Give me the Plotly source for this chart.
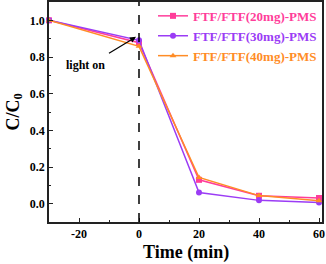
import plotly.graph_objects as go

time = [-30, 0, 20, 40, 60]
c20 = [1.0, 0.878, 0.13, 0.043, 0.031]
c30 = [1.0, 0.891, 0.061, 0.018, 0.007]
c40 = [1.0, 0.858, 0.143, 0.044, 0.016]
names = ["FTF/FTF(20mg)-PMS", "FTF/FTF(30mg)-PMS", "FTF/FTF(40mg)-PMS"]
colors = ["#FF3D9A", "#9B3CF5", "#FF8C26"]
symbols = ["square", "circle", "triangle-up"]
series = [c20, c30, c40]

font_family = "Liberation Serif, Times New Roman, serif"

fig = go.Figure()
for name, ys, col, sym in zip(names, series, colors, symbols):
    fig.add_trace(go.Scatter(
        x=time, y=ys, mode="lines+markers",
        name=f"<b><span style='color:{col}'>{name}</span></b>",
        line=dict(color=col, width=1.5),
        marker=dict(symbol=sym, size=6, color=col),
        cliponaxis=False,
    ))

fig.add_shape(type="line", x0=0, x1=0, xref="x", y0=0, y1=1, yref="paper",
              line=dict(color="black", width=1.5, dash="dash"))

fig.add_annotation(x=-1, y=0.91, ax=-10.5, ay=0.815, xref="x", yref="y",
                   axref="x", ayref="y", text="", showarrow=True,
                   arrowhead=2, arrowsize=1, arrowwidth=1.2, arrowcolor="black")
fig.add_annotation(x=-17.8, y=0.755, xref="x", yref="y", text="<b>light on</b>",
                   showarrow=False, font=dict(family=font_family, size=12, color="black"))

# axis titles
fig.add_annotation(x=0.5, y=-0.08, xref="paper", yref="paper", yanchor="top",
                   text="<b>Time (min)</b>", showarrow=False,
                   font=dict(family=font_family, size=18, color="black"))
fig.add_annotation(x=-0.13, y=0.5, xref="paper", yref="paper", xanchor="center",
                   text="<b>C/C<sub>0</sub></b>", showarrow=False, textangle=-90,
                   font=dict(family=font_family, size=18, color="black"))

axis_common = dict(
    showline=True, linecolor="#222", linewidth=1.5, mirror=True,
    ticks="inside", ticklen=4, tickwidth=1, tickcolor="#222",
    showgrid=False, zeroline=False, automargin=False,
    tickfont=dict(family=font_family, size=12, color="black"),
)

fig.update_xaxes(range=[-30, 61], tickvals=[-20, 0, 20, 40, 60],
                 ticktext=["<b>-20</b>", "<b>0</b>", "<b>20</b>", "<b>40</b>", "<b>60</b>"],
                 minor=dict(dtick=10, tick0=0, ticks="inside", ticklen=2.5, tickcolor="#222"),
                 **axis_common)
fig.update_yaxes(range=[-0.1, 1.1], tickvals=[0, 0.2, 0.4, 0.6, 0.8, 1.0],
                 ticktext=["<b>0.0</b>", "<b>0.2</b>", "<b>0.4</b>", "<b>0.6</b>", "<b>0.8</b>", "<b>1.0</b>"],
                 minor=dict(dtick=0.1, tick0=0, ticks="inside", ticklen=2.5, tickcolor="#222"),
                 **axis_common)

fig.update_layout(
    width=326, height=264,
    margin=dict(l=49, r=4, t=2, b=42, autoexpand=False),
    plot_bgcolor="white", paper_bgcolor="white",
    showlegend=True,
    legend=dict(x=1.0, y=1.005, xanchor="right", yanchor="top",
                bgcolor="rgba(0,0,0,0)", borderwidth=0,
                font=dict(family=font_family, size=13),
                itemwidth=30, tracegroupgap=0),
)

fig.write_html("out.html", config={"displayModeBar": False},
               post_script="document.body.style.margin='0';document.body.style.padding='0';")
